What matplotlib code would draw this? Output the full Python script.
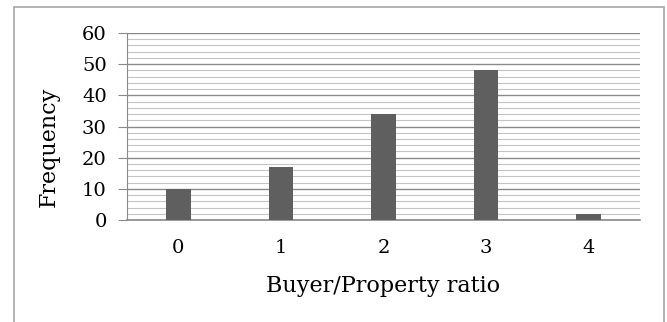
import matplotlib
matplotlib.use("Agg")
import matplotlib.pyplot as plt
from matplotlib.patches import Rectangle
from matplotlib.ticker import MultipleLocator

# data
ratios = ["0", "1", "2", "3", "4"]
frequency = [10, 17, 34, 48, 2]

plt.rcParams['font.family'] = ['DejaVu Serif']

W, H = 667, 322
fig = plt.figure(figsize=(W / 100, H / 100), dpi=100)

# outer chart border (bottom edge is cut off in the original)
fig.patches.append(Rectangle((14 / W, -0.1), (664 - 14) / W, 1 - 7 / H + 0.1,
                             transform=fig.transFigure, fill=False,
                             edgecolor='#a6a6a6', linewidth=1.2))

ax = fig.add_axes([127 / W, (H - 220) / H, (640 - 127) / W, (220 - 33) / H])
x = list(range(len(ratios)))
ax.bar(x, frequency, width=0.24, color='#5f5f5f', zorder=3)

ax.set_xlim(-0.5, 4.5)
ax.set_ylim(0, 60)
ax.yaxis.set_major_locator(MultipleLocator(10))
ax.yaxis.set_minor_locator(MultipleLocator(2))
ax.set_xticks(x)
ax.set_xticklabels(ratios)

ax.grid(True, axis='y', which='major', color='#8a8a8a', linewidth=1.0, zorder=1)
ax.grid(True, axis='y', which='minor', color='#c4c4c4', linewidth=0.8, zorder=1)
ax.set_axisbelow(True)

for s in ['top', 'right']:
    ax.spines[s].set_visible(False)
ax.spines['left'].set_color('#8a8a8a')
ax.spines['bottom'].set_color('#8a8a8a')
ax.spines['bottom'].set_linewidth(1.2)

ax.tick_params(axis='y', which='major', length=6.5, color='#8a8a8a', labelsize=14, pad=8)
ax.tick_params(axis='y', which='minor', length=0)
ax.tick_params(axis='x', length=0, labelsize=14, pad=14)

ax.set_xlabel('Buyer/Property ratio', fontsize=16)
ax.set_ylabel('Frequency', fontsize=16)
ax.xaxis.set_label_coords(0.5, -0.294)
ax.yaxis.set_label_coords(-0.131, 0.393)

fig.savefig('out.png', dpi=100)
